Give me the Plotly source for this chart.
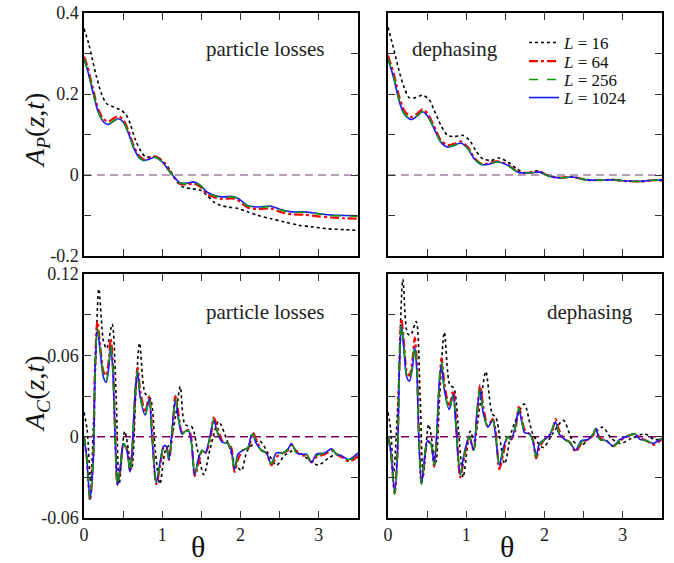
import plotly.graph_objects as go
from plotly.subplots import make_subplots

# ---------------- data ----------------
# Top-left: A_P, particle losses
theta_ap_pl = [0.0, 0.04, 0.08, 0.14, 0.18, 0.25, 0.31, 0.38, 0.44, 0.50, 0.57, 0.63, 0.70, 0.76, 0.82,
               0.91, 1.00, 1.08, 1.17, 1.23, 1.32, 1.40, 1.49, 1.57, 1.66, 1.76, 1.90, 1.97, 2.09, 2.22,
               2.39, 2.52, 2.65, 2.82, 2.99, 3.16, 3.33, 3.50]
ap_pl_L1024 = [0.285, 0.262, 0.232, 0.184, 0.156, 0.131, 0.125, 0.133, 0.139, 0.131, 0.102, 0.069, 0.044, 0.036, 0.038,
               0.044, 0.032, 0.012, -0.009, -0.020, -0.020, -0.017, -0.026, -0.042, -0.050, -0.054, -0.053, -0.058, -0.075, -0.079,
               -0.077, -0.086, -0.091, -0.091, -0.095, -0.099, -0.100, -0.101]
ap_pl_L256 = [0.286, 0.263, 0.233, 0.186, 0.157, 0.132, 0.126, 0.134, 0.140, 0.132, 0.103, 0.070, 0.045, 0.036, 0.038,
              0.044, 0.032, 0.012, -0.009, -0.020, -0.021, -0.018, -0.027, -0.043, -0.051, -0.055, -0.054, -0.059, -0.076, -0.080,
              -0.078, -0.087, -0.092, -0.092, -0.096, -0.100, -0.101, -0.102]
ap_pl_L64 = [0.292, 0.270, 0.240, 0.192, 0.163, 0.138, 0.132, 0.140, 0.145, 0.137, 0.108, 0.074, 0.048, 0.039, 0.040,
             0.046, 0.034, 0.013, -0.010, -0.022, -0.023, -0.021, -0.030, -0.047, -0.055, -0.059, -0.058, -0.063, -0.080, -0.084,
             -0.083, -0.092, -0.097, -0.098, -0.102, -0.105, -0.107, -0.108]
theta_ap_pl_16 = [0.0, 0.06, 0.10, 0.16, 0.23, 0.29, 0.38, 0.46, 0.53, 0.59, 0.65, 0.72, 0.78, 0.87, 0.95,
                  1.04, 1.10, 1.19, 1.27, 1.38, 1.49, 1.57, 1.66, 1.74, 1.84, 1.97, 2.09, 2.22, 2.39, 2.56,
                  2.74, 2.91, 3.12, 3.33, 3.50]
ap_pl_L16 = [0.362, 0.324, 0.291, 0.242, 0.197, 0.176, 0.168, 0.161, 0.151, 0.127, 0.090, 0.061, 0.046, 0.044, 0.043,
             0.028, 0.012, -0.017, -0.030, -0.034, -0.038, -0.050, -0.067, -0.075, -0.079, -0.083, -0.091, -0.100, -0.108, -0.116,
             -0.124, -0.128, -0.133, -0.135, -0.137]

# Top-right: A_P, dephasing
theta_ap_dp = [0.0, 0.08, 0.14, 0.205, 0.27, 0.31, 0.38, 0.44, 0.50, 0.59, 0.675, 0.76, 0.85, 0.93, 1.02,
               1.10, 1.19, 1.27, 1.40, 1.53, 1.66, 1.81, 1.94, 2.06, 2.19, 2.36, 2.53, 2.71, 2.88, 3.05,
               3.22, 3.39, 3.50]
ap_dp_L1024 = [0.287, 0.234, 0.184, 0.151, 0.139, 0.137, 0.147, 0.156, 0.147, 0.114, 0.081, 0.069, 0.073, 0.079, 0.065,
               0.040, 0.026, 0.026, 0.032, 0.024, 0.007, 0.005, 0.007, -0.003, -0.007, -0.005, -0.012, -0.013, -0.012, -0.015,
               -0.016, -0.013, -0.013]
ap_dp_L256 = [0.288, 0.236, 0.186, 0.153, 0.140, 0.138, 0.148, 0.157, 0.148, 0.115, 0.082, 0.070, 0.074, 0.080, 0.066,
              0.041, 0.027, 0.027, 0.032, 0.024, 0.007, 0.005, 0.007, -0.003, -0.007, -0.005, -0.012, -0.013, -0.012, -0.015,
              -0.016, -0.013, -0.013]
ap_dp_L64 = [0.295, 0.245, 0.195, 0.160, 0.146, 0.143, 0.153, 0.162, 0.153, 0.120, 0.086, 0.074, 0.077, 0.083, 0.069,
             0.043, 0.028, 0.028, 0.034, 0.025, 0.008, 0.005, 0.008, -0.003, -0.007, -0.005, -0.012, -0.013, -0.012, -0.015,
             -0.016, -0.013, -0.014]
theta_ap_dp_16 = [0.0, 0.077, 0.14, 0.205, 0.27, 0.355, 0.44, 0.526, 0.59, 0.675, 0.76, 0.846, 0.953, 1.04, 1.12,
                  1.21, 1.32, 1.42, 1.53, 1.64, 1.74, 1.92, 2.06, 2.19, 2.36, 2.53, 2.71, 2.88, 3.05, 3.22,
                  3.39, 3.50]
ap_dp_L16 = [0.365, 0.308, 0.258, 0.217, 0.191, 0.191, 0.197, 0.186, 0.160, 0.123, 0.098, 0.095, 0.098, 0.086, 0.061,
             0.040, 0.036, 0.042, 0.032, 0.016, 0.005, 0.010, -0.002, -0.006, -0.005, -0.011, -0.013, -0.011, -0.015, -0.015,
             -0.013, -0.012]

# Bottom-left: A_C, particle losses
theta_ac_pl = [0.0, 0.034, 0.077, 0.12, 0.141, 0.171, 0.205, 0.248, 0.282, 0.312, 0.342, 0.368, 0.397, 0.427, 0.462,
               0.504, 0.547, 0.59, 0.624, 0.654, 0.684, 0.718, 0.782, 0.833, 0.868, 0.923, 0.974, 1.017, 1.05, 1.085,
               1.128, 1.167, 1.209, 1.252, 1.295, 1.338, 1.372, 1.415, 1.466, 1.509, 1.551, 1.615, 1.658, 1.709, 1.765,
               1.838, 1.88, 1.923, 1.966, 2.03, 2.094, 2.137, 2.158, 2.20, 2.265, 2.33, 2.393, 2.457, 2.543, 2.607,
               2.65, 2.714, 2.778, 2.842, 2.906, 2.97, 3.077, 3.162, 3.226, 3.29, 3.376, 3.44, 3.50]
ac_pl_L1024 = [0.0, -0.015, -0.046, -0.015, 0.049, 0.079, 0.064, 0.044, 0.040, 0.049, 0.066, 0.049, 0.0, -0.036, -0.023,
               -0.005, -0.010, -0.026, 0.0, 0.034, 0.048, 0.029, 0.016, 0.028, 0.0, -0.034, -0.018, -0.007, -0.007, -0.017,
               0.007, 0.027, 0.012, 0.002, 0.004, 0.004, -0.005, -0.028, -0.015, -0.010, -0.012, 0.002, 0.012, 0.002, -0.004,
               -0.005, -0.010, -0.024, -0.013, -0.010, -0.008, 0.001, 0.002, -0.005, -0.010, -0.012, -0.020, -0.012, -0.012, -0.009,
               -0.005, -0.012, -0.013, -0.013, -0.019, -0.013, -0.012, -0.009, -0.013, -0.014, -0.017, -0.015, -0.012]
ac_pl_L256 = [0.0, -0.015, -0.046, -0.014, 0.050, 0.080, 0.065, 0.045, 0.041, 0.050, 0.067, 0.050, 0.001, -0.036, -0.023,
              -0.005, -0.010, -0.026, -0.001, 0.033, 0.049, 0.030, 0.016, 0.028, 0.001, -0.034, -0.019, -0.007, -0.007, -0.017,
              0.006, 0.028, 0.013, 0.002, 0.004, 0.004, -0.004, -0.028, -0.016, -0.010, -0.012, 0.001, 0.013, 0.003, -0.004,
              -0.005, -0.010, -0.025, -0.014, -0.010, -0.008, 0.001, 0.002, -0.004, -0.010, -0.012, -0.020, -0.013, -0.012, -0.009,
              -0.005, -0.012, -0.013, -0.013, -0.019, -0.014, -0.012, -0.009, -0.013, -0.014, -0.017, -0.016, -0.013]
ac_pl_L64 = [0.0, -0.015, -0.047, -0.012, 0.053, 0.085, 0.068, 0.048, 0.045, 0.054, 0.072, 0.055, 0.006, -0.035, -0.025,
             -0.006, -0.009, -0.026, -0.004, 0.030, 0.051, 0.034, 0.018, 0.030, 0.006, -0.035, -0.021, -0.008, -0.007, -0.017,
             0.002, 0.030, 0.016, 0.003, 0.004, 0.005, -0.002, -0.029, -0.019, -0.011, -0.012, -0.001, 0.014, 0.006, -0.003,
             -0.005, -0.008, -0.026, -0.017, -0.010, -0.009, -0.001, 0.003, -0.002, -0.010, -0.012, -0.021, -0.015, -0.012, -0.010,
             -0.006, -0.011, -0.014, -0.014, -0.019, -0.015, -0.013, -0.010, -0.013, -0.015, -0.018, -0.017, -0.014]
theta_ac_pl_16 = [0.0, 0.04, 0.085, 0.14, 0.19, 0.25, 0.29, 0.36, 0.41, 0.45, 0.52, 0.61, 0.66, 0.71, 0.78,
                  0.85, 0.91, 0.97, 1.04, 1.10, 1.17, 1.23, 1.29, 1.38, 1.45, 1.53, 1.615, 1.72, 1.84, 1.92,
                  2.01, 2.09, 2.24, 2.35, 2.46, 2.56, 2.69, 2.85, 2.99, 3.12, 3.23, 3.38, 3.50]
ac_pl_L16 = [0.018, 0.005, -0.033, 0.040, 0.109, 0.070, 0.065, 0.083, 0.030, -0.035, 0.004, -0.023, 0.030, 0.069, 0.032,
             0.028, -0.010, -0.035, -0.010, -0.005, 0.015, 0.037, 0.009, 0.007, -0.010, -0.028, -0.008, 0.011, -0.005, -0.018,
             -0.025, -0.010, -0.003, -0.012, -0.021, -0.014, -0.010, -0.016, -0.021, -0.016, -0.013, -0.018, -0.015]

# Bottom-right: A_C, dephasing
theta_ac_dp = [0.0, 0.034, 0.085, 0.12, 0.145, 0.171, 0.205, 0.239, 0.274, 0.312, 0.342, 0.368, 0.393, 0.427, 0.462,
               0.504, 0.547, 0.59, 0.624, 0.654, 0.684, 0.718, 0.782, 0.833, 0.868, 0.923, 0.974, 1.038, 1.094, 1.137,
               1.175, 1.218, 1.274, 1.338, 1.372, 1.423, 1.474, 1.53, 1.573, 1.624, 1.671, 1.722, 1.744, 1.808, 1.85,
               1.893, 1.936, 2.0, 2.064, 2.107, 2.141, 2.184, 2.256, 2.32, 2.397, 2.47, 2.556, 2.62, 2.654, 2.705,
               2.79, 2.876, 2.962, 3.047, 3.154, 3.218, 3.303, 3.389, 3.474, 3.50]
ac_dp_L1024 = [0.0, -0.010, -0.041, -0.015, 0.049, 0.082, 0.064, 0.044, 0.041, 0.051, 0.066, 0.049, 0.0, -0.035, -0.018,
               -0.003, -0.005, -0.021, 0.004, 0.039, 0.054, 0.035, 0.020, 0.031, 0.007, -0.028, -0.012, 0.0, -0.010, 0.019,
               0.034, 0.017, 0.007, 0.012, 0.002, -0.021, -0.008, 0.0, -0.002, 0.007, 0.020, 0.007, 0.003, 0.002, -0.003,
               -0.014, -0.005, -0.002, 0.001, 0.007, 0.011, 0.002, -0.002, -0.004, -0.010, -0.003, -0.002, 0.002, 0.006, -0.002,
               -0.003, -0.007, -0.002, 0.0, 0.002, -0.002, -0.003, -0.005, -0.002, -0.002]
ac_dp_L256 = [0.0, -0.010, -0.042, -0.014, 0.050, 0.083, 0.065, 0.045, 0.042, 0.052, 0.067, 0.050, 0.001, -0.035, -0.019,
              -0.003, -0.005, -0.021, 0.003, 0.039, 0.055, 0.036, 0.020, 0.031, 0.008, -0.028, -0.013, 0.0, -0.010, 0.018,
              0.035, 0.018, 0.007, 0.012, 0.003, -0.021, -0.009, 0.0, -0.002, 0.006, 0.021, 0.008, 0.003, 0.002, -0.003,
              -0.015, -0.006, -0.002, 0.001, 0.007, 0.012, 0.003, -0.002, -0.004, -0.010, -0.004, -0.002, 0.002, 0.006, -0.002,
              -0.003, -0.007, -0.003, 0.0, 0.002, -0.002, -0.003, -0.005, -0.002, -0.002]
ac_dp_L64 = [0.0, -0.010, -0.042, -0.012, 0.053, 0.087, 0.068, 0.048, 0.045, 0.056, 0.073, 0.055, 0.006, -0.034, -0.020,
             -0.004, -0.005, -0.022, 0.000, 0.036, 0.058, 0.040, 0.022, 0.034, 0.012, -0.030, -0.015, 0.0, -0.010, 0.015,
             0.038, 0.022, 0.008, 0.013, 0.005, -0.024, -0.012, 0.0, -0.002, 0.004, 0.022, 0.010, 0.005, 0.002, -0.002,
             -0.016, -0.008, -0.002, 0.001, 0.006, 0.013, 0.005, -0.002, -0.004, -0.011, -0.005, -0.002, 0.001, 0.006, -0.001,
             -0.003, -0.007, -0.003, 0.0, 0.002, -0.001, -0.003, -0.006, -0.003, -0.002]
theta_ac_dp_16 = [0.0, 0.035, 0.07, 0.13, 0.19, 0.25, 0.29, 0.36, 0.41, 0.45, 0.52, 0.61, 0.66, 0.72, 0.79,
                  0.84, 0.90, 0.96, 1.05, 1.10, 1.18, 1.25, 1.33, 1.38, 1.49, 1.58, 1.74, 1.85, 1.98, 2.10,
                  2.24, 2.35, 2.45, 2.58, 2.74, 2.85, 2.97, 3.12, 3.28, 3.40, 3.50]
ac_dp_L16 = [0.018, 0.005, -0.028, 0.030, 0.116, 0.076, 0.075, 0.085, 0.030, -0.029, 0.009, -0.019, 0.030, 0.077, 0.038,
             0.036, 0.005, -0.030, 0.004, -0.003, 0.025, 0.048, 0.017, 0.014, -0.020, 0.004, 0.024, 0.002, -0.008, 0.002,
             0.012, -0.002, -0.007, -0.001, 0.007, -0.001, -0.005, -0.001, 0.002, -0.002, -0.002]

# labels
legend_labels = ["<i>L</i> = 16", "<i>L</i> = 64", "<i>L</i> = 256", "<i>L</i> = 1024"]
panel_labels = ["particle losses", "dephasing", "particle losses", "dephasing"]
x_tickvals = [0, 1, 2, 3]
x_ticktext = ["0", "1", "2", "3"]
ap_tickvals = [-0.2, 0, 0.2, 0.4]
ap_ticktext = ["-0.2", "0", "0.2", "0.4"]
ac_tickvals = [-0.06, 0, 0.06, 0.12]
ac_ticktext = ["-0.06", "0", "0.06", "0.12"]

# ---------------- figure ----------------
# the body margin is removed by the post script, so the figure sits at the page origin
W, H = 674, 563
FONT = "Liberation Serif"
EPS = 1e-6


def px(x):
    return x / W


def py(y):
    return 1 - y / H


fig = make_subplots(rows=2, cols=2)

styles = {
    16: dict(color="black", width=1.6, dash="dot"),
    64: dict(color="#ff0000", width=2.2, dash="dashdot"),
    256: dict(color="#0a9a0a", width=1.6, dash="dash"),
    1024: dict(color="#1818ff", width=1.6, dash="solid"),
}
legend_ids = {16: "legend", 64: "legend2", 256: "legend3", 1024: "legend4"}

panels = [
    (1, 1, theta_ap_pl_16, ap_pl_L16, theta_ap_pl, ap_pl_L64, ap_pl_L256, ap_pl_L1024),
    (1, 2, theta_ap_dp_16, ap_dp_L16, theta_ap_dp, ap_dp_L64, ap_dp_L256, ap_dp_L1024),
    (2, 1, theta_ac_pl_16, ac_pl_L16, theta_ac_pl, ac_pl_L64, ac_pl_L256, ac_pl_L1024),
    (2, 2, theta_ac_dp_16, ac_dp_L16, theta_ac_dp, ac_dp_L64, ac_dp_L256, ac_dp_L1024),
]

for i, (r, c, t16, y16, t, y64, y256, y1024) in enumerate(panels):
    show = (i == 0)
    zc = "#a080a0" if r == 1 else "#800060"
    fig.add_trace(go.Scatter(x=[0, 3.5], y=[0, 0], mode="lines", showlegend=False, hoverinfo="skip",
                             line=dict(color=zc, width=1.5, dash="8px,5px")), row=r, col=c)
    for L, tx, ty in [(16, t16, y16), (64, t, y64), (1024, t, y1024), (256, t, y256)]:
        name = legend_labels[[16, 64, 256, 1024].index(L)]
        fig.add_trace(go.Scatter(x=tx, y=ty, mode="lines", name=name, legend=legend_ids[L],
                                 showlegend=show, line=dict(shape="spline", smoothing=0.8, **styles[L])),
                      row=r, col=c)

axis_common = dict(showline=True, linecolor="black", linewidth=1.5, mirror="ticks",
                   ticks="inside", ticklen=7, tickwidth=1.3, tickcolor="#333",
                   showgrid=False, zeroline=False, automargin=False, ticklabeloverflow="allow",
                   tickfont=dict(family=FONT, size=18, color="#222"))
minor_common = dict(ticks="inside", ticklen=7, tickwidth=1.3, tickcolor="#333", showgrid=False)

fig.update_xaxes(range=[0, 3.5], tickvals=x_tickvals, ticktext=x_ticktext,
                 minor=dict(dtick=0.5, **minor_common), **axis_common)
fig.update_yaxes(**axis_common)

xl = [px(84), px(358)]
xr = [px(388), px(662)]
yt = [py(256), py(13)]
yb = [py(518), py(274)]

ap_range = [-0.2 - EPS, 0.4 + EPS]
ac_range = [-0.06 - EPS, 0.12 + EPS]

fig.update_layout(
    xaxis=dict(domain=xl, showticklabels=False),
    xaxis2=dict(domain=xr, showticklabels=False),
    xaxis3=dict(domain=xl),
    xaxis4=dict(domain=xr),
    yaxis=dict(domain=yt, range=ap_range, tickvals=ap_tickvals, ticktext=ap_ticktext,
               minor=dict(dtick=0.1, **minor_common)),
    yaxis2=dict(domain=yt, range=ap_range, tickvals=ap_tickvals, ticktext=ap_ticktext, showticklabels=False,
                minor=dict(dtick=0.1, **minor_common)),
    yaxis3=dict(domain=yb, range=ac_range, tickvals=ac_tickvals, ticktext=ac_ticktext,
                minor=dict(dtick=0.03, **minor_common)),
    yaxis4=dict(domain=yb, range=ac_range, tickvals=ac_tickvals, ticktext=ac_ticktext, showticklabels=False,
                minor=dict(dtick=0.03, **minor_common)),
)

annotations = []
for (xc, yc), txt in zip([(265, 49), (455, 49), (265, 312), (590, 312)], panel_labels):
    annotations.append(dict(x=px(xc), y=py(yc), xref="paper", yref="paper", text=txt, showarrow=False,
                            xanchor="center", yanchor="middle", font=dict(family=FONT, size=21, color="#222")))
annotations.append(dict(x=px(36), y=py(131), xref="paper", yref="paper", textangle=-90, showarrow=False,
                        text="<i>A<sub>P</sub></i>(<i>z</i>,<i>t</i>)", xanchor="center", yanchor="middle",
                        font=dict(family=FONT, size=28, color="#111")))
annotations.append(dict(x=px(36), y=py(394), xref="paper", yref="paper", textangle=-90, showarrow=False,
                        text="<i>A<sub>C</sub></i>(<i>z</i>,<i>t</i>)", xanchor="center", yanchor="middle",
                        font=dict(family=FONT, size=28, color="#111")))
for xc in (198, 507):
    annotations.append(dict(x=px(xc), y=py(546), xref="paper", yref="paper", text="θ", showarrow=False,
                            xanchor="center", yanchor="middle", font=dict(family=FONT, size=30, color="#111")))

legend_common = dict(xanchor="left", yanchor="middle", bgcolor="rgba(0,0,0,0)", borderwidth=0,
                     font=dict(family=FONT, size=17, color="#111"), itemwidth=30)
fig.update_layout(
    width=W, height=H,
    margin=dict(l=0, r=0, t=0, b=0),
    paper_bgcolor="white", plot_bgcolor="white",
    annotations=annotations,
    showlegend=True,
    legend=dict(x=px(524), y=py(43), **legend_common),
    legend2=dict(x=px(524), y=py(61.5), **legend_common),
    legend3=dict(x=px(524), y=py(80), **legend_common),
    legend4=dict(x=px(524), y=py(98), **legend_common),
)

fig.write_html("out.html", config={"displayModeBar": False},
               post_script="document.body.style.margin='0px';")
